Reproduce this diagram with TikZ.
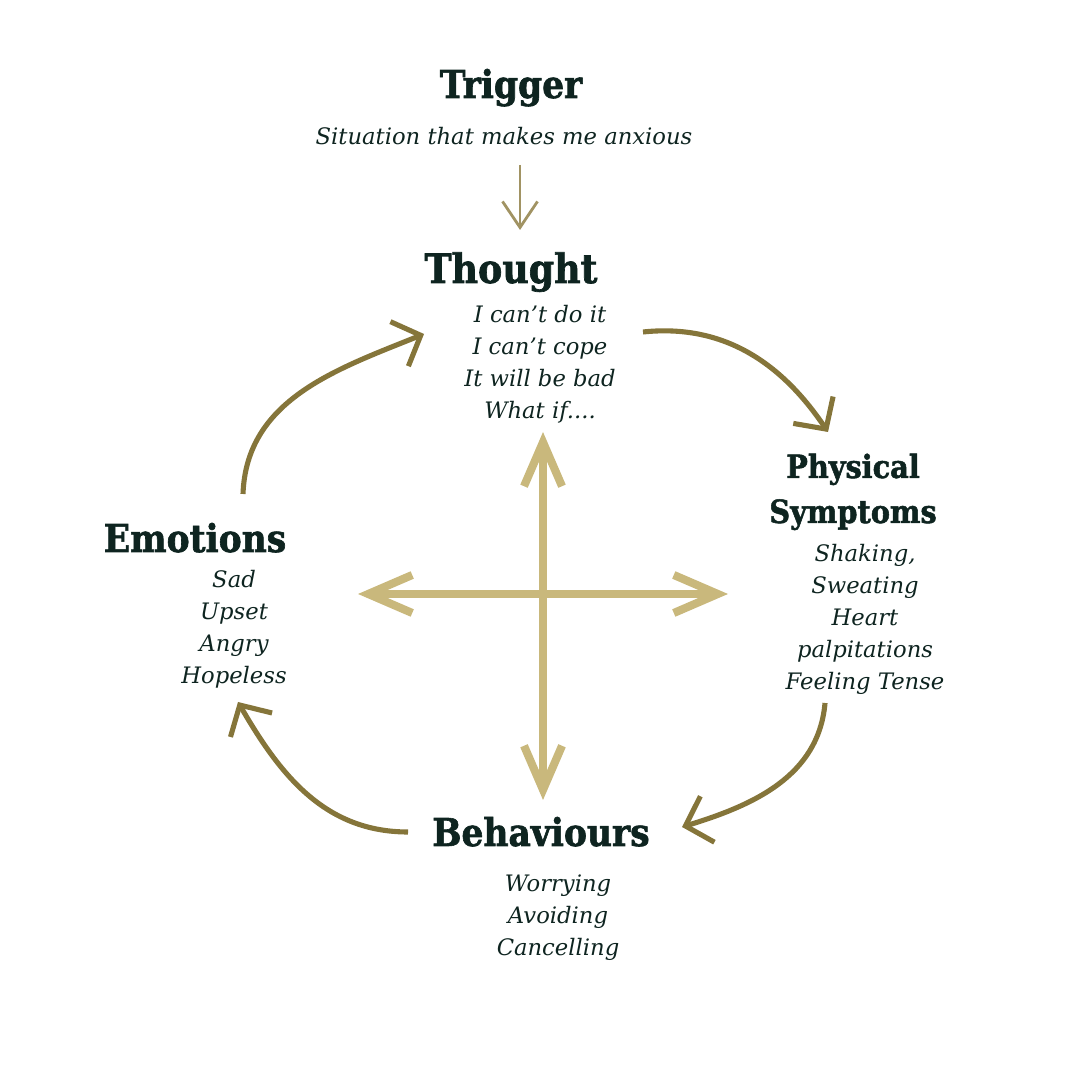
\documentclass[tikz,border=0pt]{standalone}
\usepackage{fontspec}
\usetikzlibrary{arrows.meta}
\newfontfamily\headfont{DejaVu Serif Condensed}[BoldFeatures={FakeBold=1.6}]
\newfontfamily\itemfont{DejaVu Serif}
\definecolor{ink}{HTML}{0E2420}
\definecolor{olive}{HTML}{85753A}
\definecolor{sand}{HTML}{C9B87C}
\newcommand\whatdots{....}
\begin{document}
\begin{tikzpicture}[x=0.01cm,y=0.01cm,
    head/.style={anchor=base,inner sep=0pt,text=ink,font=\headfont\bfseries\fontsize{10.9}{12}\selectfont},
    big/.style={font=\headfont\bfseries\fontsize{11.5}{12}\selectfont},
    small/.style={font=\headfont\bfseries\fontsize{9.1}{10}\selectfont},
    item/.style={anchor=base,inner sep=0pt,text=ink,font=\itemfont\itshape\fontsize{6.45}{8}\selectfont},
    cyc/.style={draw=olive,line width=1.45pt,-{Straight Barb[length=2.3mm,width=4.8mm]}},
    cross/.style={draw=sand,line width=2.3pt,{Straight Barb[length=4.4mm,width=3.8mm]}-{Straight Barb[length=4.4mm,width=3.8mm]}},
    trig/.style={draw=sand!80!black,line width=0.8pt,-{Straight Barb[length=2.6mm,width=3.5mm]}}]
    \useasboundingbox (0,0) rectangle (1080,1080);
    % headings
    \node[head] (trigger) at (511,982) {Trigger};
    \node[item] (sit) at (504,935) {Situation that makes me anxious};
    \node[head,big] (thought) at (511,797) {Thought};
    \node[head,small] (phys) at (853,602) {Physical};
    \node[head,small] (symp) at (853,557) {Symptoms};
    \node[head] (emo) at (195,528) {Emotions};
    \node[head] (beh) at (541,234) {Behaviours};
    % lists
    \foreach \t [count=\i] in {I can’t do it,I can’t cope,It will be bad,What if\whatdots}
        {\node[item] (th\i) at (540,757-32*\i+32) {\t};}
    \foreach \t [count=\i] in {{Shaking,},Sweating,Heart,palpitations,Feeling Tense}
        {\node[item] (ph\i) at (865,518-32*\i+32) {\t};}
    \foreach \t [count=\i] in {Sad,Upset,Angry,Hopeless}
        {\node[item] (em\i) at (234,492-32*\i+32) {\t};}
    \foreach \t [count=\i] in {Worrying,Avoiding,Cancelling}
        {\node[item] (be\i) at (558,188-32*\i+32) {\t};}
    % trigger arrow
    \coordinate (t1) at (520,915);
    \coordinate (t2) at (520,850);
    \draw[trig] (t1) -- (t2);
    % cross
    \coordinate (up) at (543,648);
    \coordinate (down) at (543,280);
    \coordinate (left) at (358,486);
    \coordinate (right) at (728,486);
    \draw[cross] (down) -- (up);
    \draw[cross] (left) -- (right);
    % cycle
    \coordinate (a1) at (643,748);
    \coordinate (b1) at (828,648);
    \coordinate (a2) at (825,377);
    \coordinate (b2) at (682,253);
    \coordinate (a3) at (408,248);
    \coordinate (b3) at (238,378);
    \coordinate (a4) at (243,586);
    \coordinate (b4) at (424,746);
    \foreach \a/\b/\o/\n in {a1/b1/6/124,a2/b2/-95/17,a3/b3/180/-60,a4/b4/88/202}
        {\draw[cyc] (\a) to[out=\o,in=\n] (\b);}
\end{tikzpicture}
\end{document}
